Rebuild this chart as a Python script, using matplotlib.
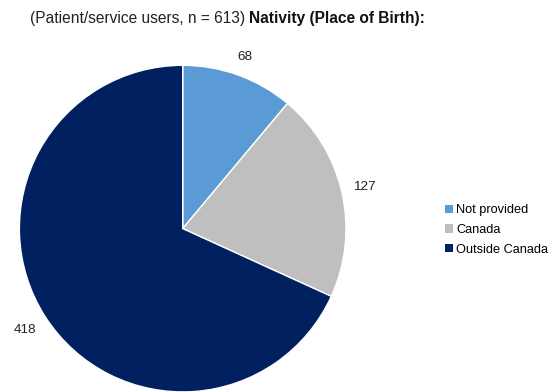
import numpy as np
import matplotlib
matplotlib.use("Agg")
import matplotlib.pyplot as plt

plt.rcParams['font.family'] = ['Liberation Sans', 'DejaVu Sans']

categories = ["Not provided", "Canada", "Outside Canada"]
counts = [68, 127, 418]
colors = ["#5B9BD5", "#BFBFBF", "#002060"]

W, H = 557, 392
fig = plt.figure(figsize=(W / 100, H / 100), dpi=100)

# pie: centre at (183, 229) px from top-left, radius 163 px
r_px = 163.3
side = 2 * 1.25 * r_px
cx, cy = 182.7, H - 228.6
ax = fig.add_axes([(cx - side / 2) / W, (cy - side / 2) / H, side / W, side / H])

wedges, texts = ax.pie(
    counts,
    labels=[str(c) for c in counts],
    colors=colors,
    startangle=90,
    counterclock=False,
    labeldistance=1.15,
    wedgeprops=dict(edgecolor="white", linewidth=1),
    textprops=dict(fontsize=9.7, color="#222222"),
)
ax.set_xlim(-1.25, 1.25)
ax.set_ylim(-1.25, 1.25)
ax.set_aspect("equal")

# title: regular part followed by bold part
t1 = fig.text(30 / W, 1 - 26 / H, "(Patient/service users, n = 613) ",
              fontsize=11.2, color="#222222", ha="left", va="bottom")
ax.annotate("Nativity (Place of Birth):", xy=(1, 0), xycoords=t1,
            fontsize=11.2, fontweight="bold", color="#111111",
            ha="left", va="bottom", annotation_clip=False)

leg = fig.legend(
    wedges, categories,
    loc="center left", bbox_to_anchor=(445 / W, 1 - 230 / H),
    frameon=False, fontsize=9.2, borderpad=0, borderaxespad=0,
    handlelength=0.6, handleheight=0.6, handletextpad=0.3,
    labelspacing=0.6,
)
for h in leg.legend_handles:
    h.set_linewidth(0)

# place value labels just outside each wedge, with a constant gap to the label box
fig.canvas.draw()
renderer = fig.canvas.get_renderer()
gap_px = 11.0
for w, t in zip(wedges, texts):
    theta = np.deg2rad((w.theta1 + w.theta2) / 2)
    c, s = np.cos(theta), np.sin(theta)
    bb = t.get_window_extent(renderer)
    half = abs(c) * bb.width / 2 + abs(s) * bb.height / 2
    d = (r_px + gap_px + half) / r_px
    t.set_ha("center")
    t.set_va("center")
    t.set_position((d * c, d * s))

fig.savefig("out.png", dpi=100)
